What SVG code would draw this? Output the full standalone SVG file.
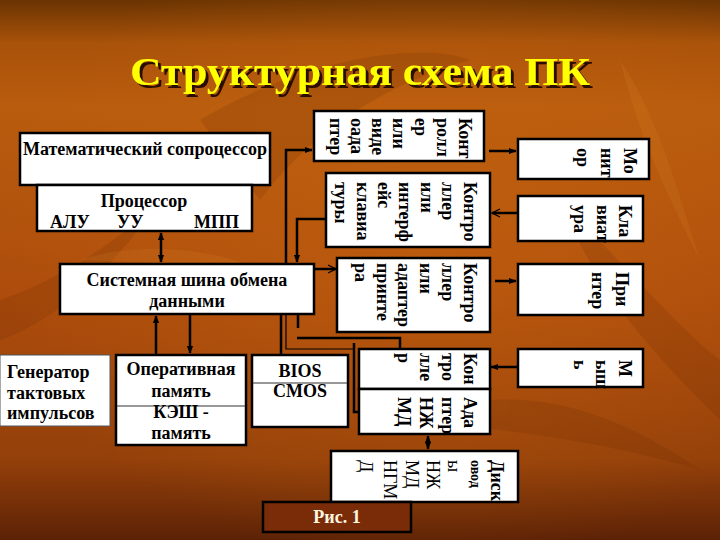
<svg xmlns="http://www.w3.org/2000/svg" width="720" height="540" viewBox="0 0 720 540">
<defs>
<linearGradient id="bg" x1="0" y1="0" x2="0" y2="1">
<stop offset="0" stop-color="#6a3402"/>
<stop offset="0.08" stop-color="#a9520a"/>
<stop offset="0.2" stop-color="#b95c0e"/>
<stop offset="0.55" stop-color="#ad4c0c"/>
<stop offset="0.85" stop-color="#94400a"/>
<stop offset="1" stop-color="#5c2206"/>
</linearGradient>
<radialGradient id="glow" cx="0.6" cy="0.45" r="0.6">
<stop offset="0" stop-color="#c8660f" stop-opacity="0.5"/>
<stop offset="1" stop-color="#c8660f" stop-opacity="0"/>
</radialGradient>
<filter id="shadow" x="-5%" y="-20%" width="115%" height="150%">
<feDropShadow dx="3" dy="3" stdDeviation="0.4" flood-color="#2a1000" flood-opacity="1"/>
</filter>
<marker id="af" viewBox="0 0 10 10" refX="9" refY="5" markerWidth="3.2" markerHeight="3.2" orient="auto-start-reverse" markerUnits="strokeWidth">
<path d="M0,1 L10,5 L0,9 Z" fill="#000"/>
</marker>
<marker id="ao" viewBox="0 0 10 10" refX="9" refY="5" markerWidth="4" markerHeight="4" orient="auto" markerUnits="strokeWidth">
<path d="M1,1 L9,5 L1,9" fill="none" stroke="#000" stroke-width="1.3"/>
</marker>
<marker id="at" viewBox="0 0 10 10" refX="9" refY="5" markerWidth="7" markerHeight="7" orient="auto" markerUnits="strokeWidth">
<path d="M0,1 L10,5 L0,9 Z" fill="#000"/>
</marker>
</defs>
<style>
.box{fill:#fff;stroke:#000;stroke-width:2.5}
.thin{fill:#fff;stroke:#555;stroke-width:1}
.t{font-family:"Liberation Serif","Times New Roman",serif;font-weight:bold;font-size:18px;fill:#000}
.tc{text-anchor:middle}
.r{font-family:"Liberation Serif","Times New Roman",serif;font-weight:bold;font-size:18px;fill:#000}
.rn{font-family:"Liberation Serif","Times New Roman",serif;font-size:18px;fill:#000}
.c{fill:none;stroke:#000;stroke-width:2.5}
.c1{fill:none;stroke:#000;stroke-width:1.2}
.div{stroke:#333;stroke-width:1}
.ttl{font-family:"Liberation Serif","Times New Roman",serif;font-weight:bold;font-size:40px;text-anchor:middle}
</style>
<rect width="720" height="540" fill="url(#bg)"/>
<rect width="720" height="540" fill="url(#glow)"/>
<g opacity="0.18" fill="#6a2a04">
<path d="M200,120 C300,60 420,40 470,60 C400,80 320,120 260,200 Z"/>
<path d="M560,200 C620,260 680,330 720,360 L720,420 C660,360 600,300 560,200 Z"/>
<path d="M0,300 C60,280 120,240 160,200 C120,260 60,320 0,340 Z"/>
<path d="M420,420 C500,380 600,400 700,470 C600,440 500,430 420,420 Z"/>
</g>
<g opacity="0.15" fill="#e08a30">
<path d="M620,60 C660,120 680,200 700,260 C670,200 640,140 620,60 Z"/>
<path d="M80,260 C140,240 220,250 260,270 C200,265 140,262 80,260 Z"/>
</g>
<g id="title">
<text class="ttl" x="360" y="85" fill="#ffff00" filter="url(#shadow)" textLength="460" lengthAdjust="spacingAndGlyphs">Структурная схема ПК</text>
</g>
<g id="connectors">
<line class="c" x1="161" y1="233" x2="161" y2="262" marker-start="url(#af)" marker-end="url(#af)"/>
<line class="c" x1="156" y1="355" x2="156" y2="316" marker-end="url(#af)"/>
<line class="c" x1="190" y1="314" x2="190" y2="353" marker-end="url(#af)"/>
<line class="c" x1="281" y1="355" x2="281" y2="302" marker-end="url(#af)"/>
<polyline class="c" points="360,412 354,412 354,343"/>
<polyline class="c1" points="354,349 286,349 286,300" marker-end="url(#at)"/>
<polyline class="c" points="400,349 400,338 297,338"/>
<line class="c" x1="298" y1="328" x2="298" y2="300" marker-end="url(#af)"/>
<polyline class="c" points="286,264 286,150 312,150" marker-end="url(#af)"/>
<polyline class="c" points="330,219 297,219 297,262" marker-end="url(#af)"/>
<line class="c" x1="315" y1="269" x2="336" y2="269" marker-end="url(#ao)"/>
<line class="c" x1="489" y1="151" x2="516" y2="151" marker-end="url(#af)"/>
<line class="c" x1="518" y1="213" x2="492" y2="213" marker-end="url(#ao)"/>
<line class="c" x1="495" y1="281" x2="516" y2="281" marker-end="url(#af)"/>
<line class="c" x1="518" y1="367" x2="491" y2="367" marker-end="url(#af)"/>
<line class="c" x1="428" y1="436" x2="428" y2="449" marker-start="url(#af)" marker-end="url(#af)"/>
</g>
<g id="coprocessor">
<rect class="box" x="20" y="133" width="250" height="52"/>
<text class="t tc" x="145" y="155">Математический сопроцессор</text>
</g>
<g id="processor">
<rect class="box" x="37" y="185" width="215" height="46"/>
<text class="t tc" x="144" y="207">Процессор</text>
<text class="t" x="50" y="228">АЛУ</text>
<text class="t" x="117" y="228">УУ</text>
<text class="t" x="194" y="228">МПП</text>
</g>
<g id="bus">
<rect class="box" x="60" y="264" width="254" height="50"/>
<text class="t tc" x="187" y="286">Системная шина обмена</text>
<text class="t tc" x="187" y="307">данными</text>
</g>
<g id="generator">
<rect class="thin" x="0" y="355" width="110" height="71"/>
<text class="t" x="7" y="378">Генератор</text>
<text class="t" x="7" y="399">тактовых</text>
<text class="t" x="7" y="419">импульсов</text>
</g>
<g id="ram">
<rect class="box" x="116" y="355" width="130" height="90"/>
<line class="div" x1="117" y1="406" x2="245" y2="406"/>
<text class="t tc" x="181" y="375">Оперативная</text>
<text class="t tc" x="181" y="397">память</text>
<text class="t tc" x="181" y="418">КЭШ -</text>
<text class="t tc" x="181" y="439">память</text>
</g>
<g id="bios">
<rect class="box" x="252" y="355" width="96" height="72"/>
<line class="div" x1="253" y1="383" x2="347" y2="383"/>
<text class="t tc" x="300" y="377">BIOS</text>
<text class="t tc" x="300" y="397">CMOS</text>
</g>
<g id="video-controller">
<rect class="box" x="314" y="111" width="170" height="50"/>
<text class="r" transform="translate(459,118) rotate(90)"><tspan x="0" y="0">Конт</tspan><tspan x="0" dy="22">ролл</tspan><tspan x="0" dy="22">ер</tspan><tspan x="0" dy="22">или</tspan><tspan x="0" dy="21">виде</tspan><tspan x="0" dy="21">оада</tspan><tspan x="0" dy="21">птер</tspan></text>
</g>
<g id="keyboard-controller">
<rect class="box" x="326" y="173" width="164" height="74"/>
<text class="r" transform="translate(464,182) rotate(90)"><tspan x="0" y="0">Контро</tspan><tspan x="0" dy="22">ллер</tspan><tspan x="0" dy="21">или</tspan><tspan x="0" dy="22">интерф</tspan><tspan x="0" dy="21">ейс</tspan><tspan x="0" dy="21">клавиа</tspan><tspan x="0" dy="22">туры</tspan></text>
</g>
<g id="printer-controller">
<rect class="box" x="337" y="258" width="153" height="74"/>
<text class="r" transform="translate(464,263) rotate(90)"><tspan x="0" y="0">Контро</tspan><tspan x="0" dy="22">ллер</tspan><tspan x="0" dy="22">или</tspan><tspan x="0" dy="22">адаптер</tspan><tspan x="0" dy="21">принте</tspan><tspan x="0" dy="22">ра</tspan></text>
</g>
<g id="mouse-controller">
<rect class="box" x="359" y="349" width="131" height="40"/>
<text class="r" transform="translate(464,353) rotate(90)"><tspan x="0" y="0">Кон</tspan><tspan x="0" dy="22">тро</tspan><tspan x="0" dy="22">лле</tspan><tspan x="0" dy="22">р</tspan></text>
</g>
<g id="hdd-adapter">
<rect class="box" x="359" y="389" width="131" height="45"/>
<text class="r" transform="translate(464,397) rotate(90)"><tspan x="0" y="0">Ада</tspan><tspan x="0" dy="22">птер</tspan><tspan x="0" dy="22">НЖ</tspan><tspan x="0" dy="22">МД</tspan></text>
</g>
<g id="drives">
<rect class="box" x="331" y="451" width="187" height="51"/>
<text class="rn" transform="translate(491,460) rotate(90)"><tspan x="0" y="0" font-weight="bold">Диск</tspan><tspan x="0" dy="20" font-size="14" font-weight="bold">овод</tspan><tspan x="0" dy="23">ы</tspan><tspan x="0" dy="21">НЖ</tspan><tspan x="0" dy="21">МД</tspan><tspan x="0" dy="22">НГМ</tspan><tspan x="0" dy="24">Д</tspan></text>
</g>
<g id="monitor">
<rect class="box" x="518" y="139" width="131" height="40"/>
<text class="r" transform="translate(624,148) rotate(90)"><tspan x="0" y="0">Мо</tspan><tspan x="0" dy="23">нит</tspan><tspan x="0" dy="24">ор</tspan></text>
</g>
<g id="keyboard">
<rect class="box" x="518" y="196" width="125" height="45"/>
<text class="r" transform="translate(619,205) rotate(90)"><tspan x="0" y="0">Кла</tspan><tspan x="0" dy="22">виат</tspan><tspan x="0" dy="23">ура</tspan></text>
</g>
<g id="printer">
<rect class="box" x="518" y="264" width="125" height="51"/>
<text class="r" transform="translate(616,272) rotate(90)"><tspan x="0" y="0">При</tspan><tspan x="0" dy="24">нтер</tspan></text>
</g>
<g id="mouse">
<rect class="box" x="518" y="349" width="125" height="38"/>
<text class="r" transform="translate(619,360) rotate(90)"><tspan x="0" y="0">М</tspan><tspan x="0" dy="23">ыш</tspan><tspan x="0" dy="22">ь</tspan></text>
</g>
<g id="caption">
<rect x="263" y="502" width="148" height="30" fill="#7a2c08" stroke="#000" stroke-width="2.5"/>
<text x="337" y="523" text-anchor="middle" font-family="'Liberation Serif','Times New Roman',serif" font-weight="bold" font-size="18" fill="#fff6e0">Рис. 1</text>
</g>
</svg>
